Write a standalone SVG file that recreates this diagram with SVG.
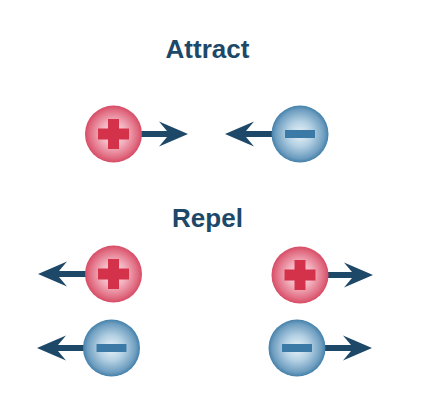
<svg xmlns="http://www.w3.org/2000/svg" width="432" height="408" viewBox="0 0 432 408">
<defs>
<style>
.title{font-family:"Liberation Sans",Arial,sans-serif;font-weight:bold;font-size:26px;fill:#1d4868;text-anchor:middle}
.arrow{fill:#1d4868}
.plus{fill:#d3324a}
.minus{fill:#3b7aa6}
</style>
<radialGradient id="gPos" cx="50%" cy="50%" r="50%">
<stop offset="0" stop-color="#fce8ec"/>
<stop offset="0.45" stop-color="#f2b0bd"/>
<stop offset="0.85" stop-color="#e06a80"/>
<stop offset="1" stop-color="#d64c65"/>
</radialGradient>
<radialGradient id="gNeg" cx="50%" cy="50%" r="50%">
<stop offset="0" stop-color="#eaf3f9"/>
<stop offset="0.45" stop-color="#b3d0e3"/>
<stop offset="0.85" stop-color="#6f9ec0"/>
<stop offset="1" stop-color="#4480aa"/>
</radialGradient>
<path id="arr" d="M0,0 L-29,-12.5 L-21,-3 L-52,-3 L-52,3 L-21,3 L-29,12.5 Z"/>
<g id="pos">
<circle r="28.5" fill="url(#gPos)"/>
<rect x="-15.5" y="-5.5" width="31" height="11" class="plus"/>
<rect x="-5.5" y="-15" width="11" height="30" class="plus"/>
</g>
<g id="neg">
<circle r="28.5" fill="url(#gNeg)"/>
<rect x="-15" y="-4" width="30" height="8" class="minus"/>
</g>
</defs>
<rect width="432" height="408" fill="#ffffff"/>
<text class="title" x="207.5" y="58">Attract</text>
<text class="title" x="207.5" y="227">Repel</text>
<g id="connectors" class="arrow">
<use href="#arr" transform="translate(188,134)"/>
<use href="#arr" transform="translate(225,134) scale(-1,1)"/>
<use href="#arr" transform="translate(38,274) scale(-1,1)"/>
<use href="#arr" transform="translate(37,348) scale(-1,1)"/>
<use href="#arr" transform="translate(373,275)"/>
<use href="#arr" transform="translate(372,348)"/>
</g>
<g id="attract-pos"><use href="#pos" transform="translate(113.5,134)"/></g>
<g id="attract-neg"><use href="#neg" transform="translate(300,134)"/></g>
<g id="repel-pos-left"><use href="#pos" transform="translate(113.5,274)"/></g>
<g id="repel-neg-left"><use href="#neg" transform="translate(111.5,348)"/></g>
<g id="repel-pos-right"><use href="#pos" transform="translate(300,275)"/></g>
<g id="repel-neg-right"><use href="#neg" transform="translate(297,348)"/></g>
</svg>
